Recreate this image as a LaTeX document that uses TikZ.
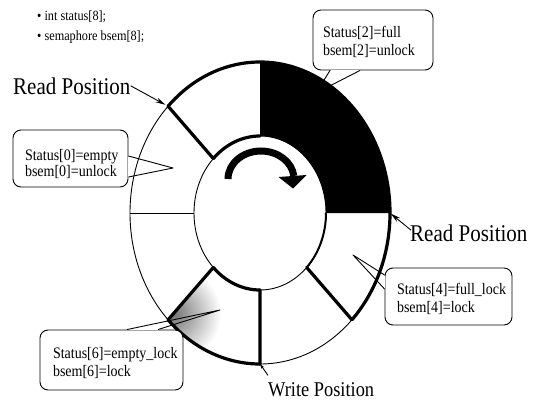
\documentclass[tikz,border=0pt]{standalone}
\usepackage{fontspec}
\setmainfont{Liberation Serif}
\newfontfamily\sq[FakeStretch=0.875]{Liberation Serif}
\usetikzlibrary{calc,arrows.meta}
\newcommand{\ctxt}[4]{\rule{0pt}{#1}\mbox{#3}\\[#2]\mbox{#4}\rule[-3pt]{0pt}{3pt}}
\begin{document}
\begin{tikzpicture}[x=1pt,y=1pt,
  thinln/.style={line width=0.9pt},
  thickln/.style={line width=3.2pt, line cap=round},
  medln/.style={line width=2pt, line cap=round},
  callbox/.style={draw, line width=0.9pt, rounded corners=8pt, fill=white, align=left,
    font=\sq\fontsize{16}{18.5}\selectfont, inner ysep=0pt},
  tailln/.style={line width=0.9pt, line join=round},
  biglbl/.style={font=\sq\fontsize{24}{28}\selectfont, inner sep=0pt, anchor=base west},
  bul/.style={font=\sq\fontsize{14}{16}\selectfont, inner sep=0pt, anchor=base west},
  ptr/.style={line width=0.9pt, -{Stealth[length=10pt,width=5pt]}},
]
\useasboundingbox (0,0) rectangle (543,400);
\coordinate (O) at (260,187);
\foreach \a/\n in {135/135,90/90,0/0,-45/m45,-90/m90,-135/m135,180/180}{
  \path (O) ++(\a:130 and 151) coordinate (o\n);
  \path (O) ++(\a:66 and 77) coordinate (i\n);
}
% black (full) segments
\fill[black] (o90) arc[start angle=90,end angle=0,x radius=130,y radius=151]
  -- (i0) arc[start angle=0,end angle=90,x radius=66,y radius=77] -- cycle;
% shaded segment 6
\begin{scope}
\clip (om90) arc[start angle=-90,end angle=-135,x radius=130,y radius=151]
  -- (im135) arc[start angle=-135,end angle=-90,x radius=66,y radius=77] -- cycle;
\shade[inner color=black!55, outer color=white] ($(om135)+(5,6)$) circle (48);
\end{scope}
% ring outlines
\draw[thinln] (O) ellipse[x radius=130,y radius=151];
\draw[thinln] (O) ellipse[x radius=66,y radius=77];
\draw[thinln] (o180) -- (i180);
\draw[thickln] (o135) arc[start angle=135,end angle=-45,x radius=130,y radius=151];
\draw[thickln] (om90) arc[start angle=-90,end angle=-135,x radius=130,y radius=151];
\draw[thickln] (i135) arc[start angle=135,end angle=90,x radius=66,y radius=77];
\draw[medln] (i0) arc[start angle=0,end angle=-45,x radius=66,y radius=77];
\draw[thickln] (im90) arc[start angle=-90,end angle=-135,x radius=66,y radius=77];
\draw[thickln] (o135) -- (i135) (om45) -- (im45) (om90) -- (im90) (om135) -- (im135);
% rotation arrow
\coordinate (C) at (261,221);
\draw[line width=7pt] (C) ++(180:33 and 28) arc[start angle=180,end angle=6,x radius=33,y radius=28];
\fill (278.5,223) -- (306.5,225) -- (293,211.5) -- cycle;
% bullets
\node[bul] (b1) at (37,379) {• int status[8];};
\node[bul] (b2) at (37,359.5) {• semaphore bsem[8];};
% labels
\node[biglbl] (rp1) at (13,306) {Read Position};
\node[biglbl] (rp2) at (410,159) {Read Position};
\node[biglbl, font=\sq\fontsize{21}{24}\selectfont] (wp) at (268,4) {Write Position};
\draw[ptr, shorten >=3pt] (rp1.east) -- (o135);
\draw[ptr, shorten >=1pt] ([shift={(1pt,-6pt)}]rp2.north west) -- (o0);
\draw[line width=0.9pt, -{Stealth[length=5pt,width=3pt]}] ([yshift=6.5pt]wp.north west) -- (om90);
% callout 2
\node[callbox, minimum width=120pt, minimum height=60pt, text width=100pt, inner xsep=10pt]
  (c2) at (373,360) {\ctxt{16.1pt}{0pt}{Status[2]=full}{bsem[2]=unlock}};
\coordinate (t2) at (316,307);
\fill[white] ($(c2.south)+(-42.5,-0.7)$) rectangle ($(c2.south)+(-13.5,0.7)$);
\draw[tailln] ($(c2.south)+(-43,0)$) -- (t2) -- ($(c2.south)+(-13,0)$);
% callout 0
\node[callbox, minimum width=115pt, minimum height=57pt, text width=91pt, inner xsep=12pt]
  (c0) at (70.5,241.5) {\ctxt{22.5pt}{-2pt}{Status[0]=empty}{bsem[0]=unlock}};
\coordinate (t0) at (173,232);
\fill[white] ($(c0.east)+(-0.7,-18)$) rectangle ($(c0.east)+(0.7,2)$);
\draw[tailln] ($(c0.east)+(0,2.5)$) -- (t0) -- ($(c0.east)+(0,-18.5)$);
% callout 4
\node[callbox, minimum width=127pt, minimum height=57pt, text width=103pt, inner xsep=12pt]
  (c4) at (448.5,103.5) {\ctxt{16.5pt}{0pt}{Status[4]=full\_lock}{bsem[4]=lock}};
\coordinate (t4) at (353,145);
\fill[white] ($(c4.west)+(-0.7,8)$) rectangle ($(c4.west)+(0.7,21)$);
\draw[tailln] ($(c4.west)+(0,21.5)$) -- (t4) -- ($(c4.west)+(0,7.5)$);
% callout 6
\node[callbox, minimum width=143pt, minimum height=60pt, text width=117pt, inner xsep=13pt]
  (c6) at (111.5,40) {\ctxt{18.1pt}{0pt}{Status[6]=empty\_lock}{bsem[6]=lock}};
\coordinate (t6) at (220,90);
\fill[white] ($(c6.north)+(16,-0.7)$) rectangle ($(c6.north)+(46,0.7)$);
\draw[tailln] ($(c6.north)+(15.5,0)$) -- (t6) -- ($(c6.north)+(46.5,0)$);
\end{tikzpicture}
\end{document}
